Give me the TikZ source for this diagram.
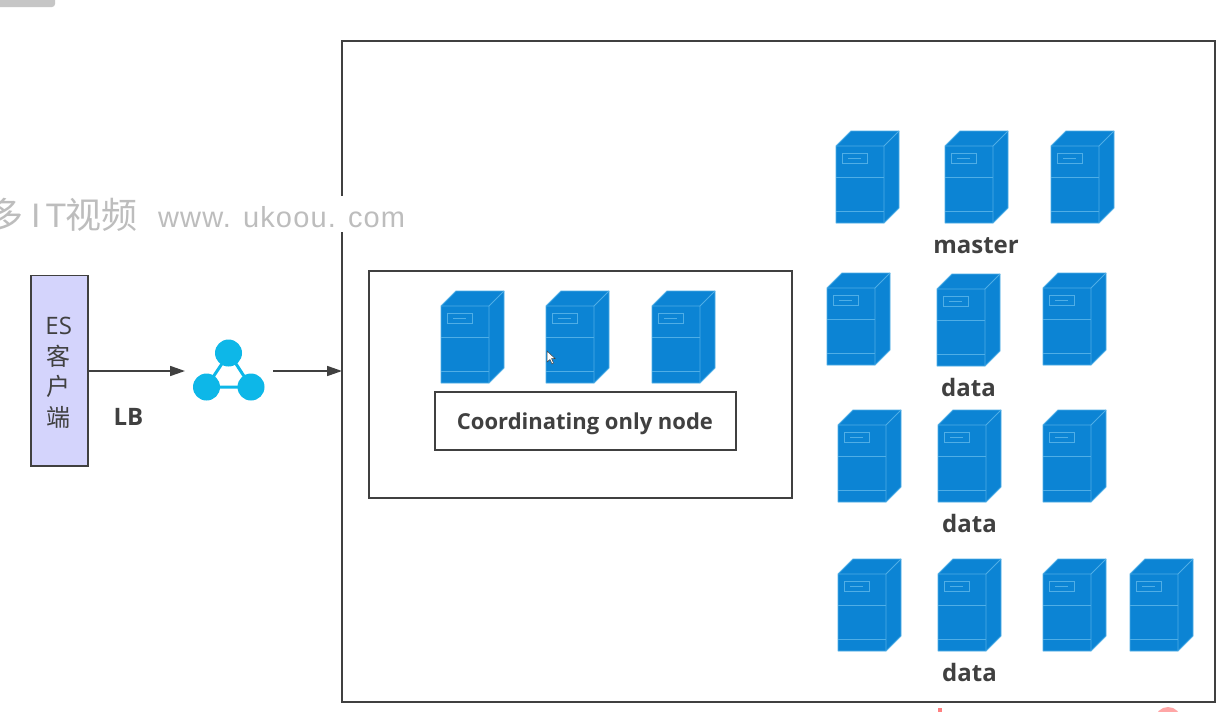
\documentclass[tikz,border=0pt]{standalone}
\usepackage{fontspec}
\setmainfont{Open Sans}
\newfontfamily\cjk{Noto Sans CJK SC}
\newfontfamily\wmfont[LetterSpace=3.9]{Liberation Sans}
\usetikzlibrary{arrows.meta}
\definecolor{ink}{HTML}{404040}
\definecolor{srv}{HTML}{0C84D4}
\definecolor{srvline}{HTML}{4FAEE6}
\definecolor{lbc}{HTML}{0DB7E8}
\definecolor{cli}{HTML}{D4D4FC}
\definecolor{wm}{HTML}{BDBDBD}
\tikzset{
  x=1pt,y=-1pt,
  frame/.style={draw=ink,line width=2pt,fill=none,outer sep=0pt,inner sep=0pt,anchor=north west},
  thinframe/.style={draw=ink,line width=1.8pt,outer sep=0pt,inner sep=0pt,anchor=north west},
  flow/.style={draw=ink,line width=1.7pt,-{Triangle[length=15pt,width=10pt]}},
  lab/.style={text=ink,font=\fontsize{24}{26}\selectfont\bfseries,inner sep=0pt},
  pics/server/.style={code={
    \draw[srvline,fill=srv,line width=.9pt,line join=round]
      (0,15)--(15,0)--(63,0)--(63,77)--(48,92)--(0,92)--cycle;
    \draw[srvline,line width=.9pt,line join=round] (0,15)--(48,15)--(63,0) (48,15)--(48,92);
    \draw[srvline,line width=.9pt] (0,46)--(48,46) (0,80)--(48,80);
    \draw[srvline,line width=.9pt] (6,22) rectangle (31,32);
    \draw[srvline,line width=.9pt] (12,27)--(25,27);
  }}
}
\begin{document}
\begin{tikzpicture}
\useasboundingbox (0,0) rectangle (1224,712);
\fill[white] (0,0) rectangle (1224,712);
% clipped badge and marks at the picture edges
\fill[gray!45,rounded corners=3pt] (-6,-8) rectangle (55,7);
\fill[red!35] (1168,720) circle (13);
\fill[red!50] (938,708) rectangle (942,712);
% main frame
\node[frame,minimum width=873pt,minimum height=661pt] (outer) at (342,40.5) {};
\node[thinframe,minimum width=423pt,minimum height=227pt] (group) at (369,271) {};
% watermark
\fill[white] (335,196) rectangle (349,232);
\node[text=wm,inner sep=0pt,anchor=west,font=\fontsize{36}{38}\selectfont\cjk] (wmark) at (-13,215) {多};
\node[text=wm,inner sep=0pt,anchor=west,font=\fontsize{34}{38}\selectfont\wmfont] (wmit) at (31,216) {I\hspace{5pt}T};
\node[text=wm,inner sep=0pt,anchor=west,font=\fontsize{36}{38}\selectfont\cjk] (wmvid) at (65,215) {视频};
\node[text=wm,inner sep=0pt,anchor=west,font=\fontsize{29}{32}\selectfont\wmfont] (wmurl) at (158,217)
  {www. ukoou. com};
% client
\node[draw=ink,fill=cli,line width=1.9pt,outer sep=0pt,minimum width=57pt,minimum height=190.5pt,inner sep=0pt,anchor=north west] (client) at (31,275.5) {};
\node[text=ink,inner sep=0pt,align=center,font=\fontsize{24}{30.5}\selectfont] (clienttext) at (58.7,373)
  {ES\\{\cjk 客}\\{\cjk 户}\\{\cjk 端}};
% load balancer icon
\draw[lbc,line width=3pt] (229,353)--(206.5,387)--(251,387)--cycle;
\node[circle,fill=lbc,minimum size=27pt,inner sep=0pt] (lbtop) at (228.5,353) {};
\node[circle,fill=lbc,minimum size=27pt,inner sep=0pt] (lbleft) at (206.5,387) {};
\node[circle,fill=lbc,minimum size=27pt,inner sep=0pt] (lbright) at (251,387) {};
\coordinate (lbin) at (185,371);
\coordinate (lbout) at (273,371);
\coordinate (outerin) at (outer.west |- lbout);
\draw[flow] (client.east |- lbin) -- (lbin);
\draw[flow] (lbout) -- (outerin);
\node[lab] (lb) at (128.5,417) {LB};
% coordinating servers
\foreach \x in {441,546,652} \pic at (\x,291) {server};
\node[thinframe,fill=white,minimum width=301pt,minimum height=58pt] (coord) at (435,392) {};
\node[lab,font=\fontsize{22}{26}\selectfont\bfseries] (coordtext) at (585,424) {Coordinating only node};
% cursor
\fill[white,draw=ink,line width=.5pt] (547,351)--(547,362)--(550,359.5)--(552,364)--(553.5,363)--(551.5,358.5)--(555,358.5)--cycle;
% data and master servers
\foreach \x in {836,945,1051} \pic at (\x,131) {server};
\node[lab] (master) at (976,246) {master};
\pic at (827,273) {server};
\pic at (937,274) {server};
\pic at (1043,273) {server};
\node[lab] (data1) at (968.5,387) {data};
\foreach \x in {838,938,1043} \pic at (\x,410) {server};
\node[lab] (data2) at (969.5,523) {data};
\foreach \x in {838,938,1043,1130} \pic at (\x,559) {server};
\node[lab] (data3) at (969.5,672) {data};
\end{tikzpicture}
\end{document}
